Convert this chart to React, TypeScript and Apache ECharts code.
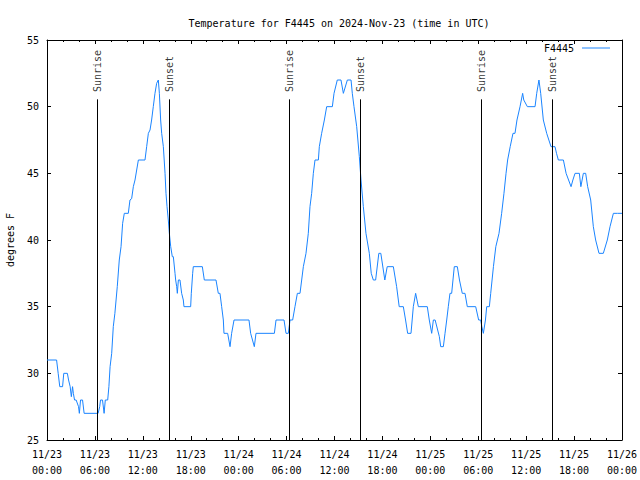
import React, { useEffect, useRef } from "react";
import * as echarts from "echarts";

// Hours since 2024-11-23 00:00 UTC
const hours: number[] = [
  0, 1.2, 1.4, 1.6, 1.95, 2.1, 2.55, 2.7, 2.9, 3.05, 3.2, 3.3, 3.45, 3.65, 3.95, 4.05, 4.2, 4.45, 4.65, 6.4,
  6.6, 6.7, 6.95, 7.15, 7.3, 7.6, 7.75, 7.9, 8.1, 8.3, 8.5, 8.8, 9.05, 9.27, 9.47, 9.68, 10.18, 10.39, 10.6, 10.81,
  11.02, 11.23, 11.44, 12.27, 12.48, 12.69, 12.9, 13.1, 13.31, 13.52, 13.73, 13.94, 14.07, 14.23, 14.36, 14.57, 14.78, 14.9, 15.03, 15.19,
  15.32, 15.49, 15.69, 15.82, 16.03, 16.11, 16.24, 16.32, 16.45, 16.65, 16.86, 17.07, 17.15, 17.99, 18.07, 18.24, 18.32, 19.45, 19.7, 21.16,
  21.45, 21.66, 21.87, 22.08, 22.16, 22.62, 22.92, 23.12, 23.42, 25.29, 25.5, 25.96, 26.17, 28.47, 28.68, 29.68, 29.93, 30.22, 30.43, 30.76,
  31.05, 31.35, 31.68, 31.89, 32.1, 32.43, 32.72, 32.93, 33.14, 33.35, 33.56, 33.98, 34.1, 34.39, 34.73, 35.02, 35.73, 35.94, 36.35, 36.81,
  37.11, 37.61, 38.07, 38.23, 38.44, 38.78, 39.11, 39.32, 39.61, 39.94, 40.36, 40.6, 40.86, 41.15, 41.55, 41.8, 42.3, 42.6, 43.37, 43.78,
  44.1, 44.62, 44.9, 45.16, 45.58, 45.87, 46.16, 46.5, 47.62, 47.87, 48.17, 48.38, 48.6, 49.13, 49.3, 49.63, 49.84, 50.05, 50.25, 50.46,
  50.67, 51.0, 51.38, 51.65, 52.0, 52.34, 52.63, 53.68, 54.05, 54.3, 54.45, 54.64, 54.9, 55.06, 55.39, 55.56, 55.9, 56.2, 56.6, 56.93,
  57.22, 57.48, 57.68, 58.0, 58.35, 58.6, 58.85, 59.23, 59.56, 59.7, 60.15, 61.11, 61.32, 61.6, 61.82, 62.15, 62.57, 63.11, 63.61, 63.8,
  64.03, 64.66, 65.0, 65.62, 65.85, 66.12, 66.66, 66.85, 67.16, 67.45, 67.7, 68.08, 68.41, 68.7, 69.12, 69.66, 70.16, 70.5, 70.92, 71.42,
  72.0,
];

// Temperature (degrees F)
const temps: number[] = [
  31, 31, 30, 29, 29, 30, 30, 29.5, 29, 28.25, 29, 28.5, 28, 28, 27.5, 27, 28, 28, 27, 27,
  27.5, 28, 28, 27, 28, 28, 29, 30.5, 31.5, 33.5, 34.5, 36.5, 38.5, 39.5, 41.25, 42, 42, 43, 43.1, 44,
  44.5, 45.25, 46, 46, 47, 48, 48.25, 49, 50, 51, 51.75, 52, 51, 49, 48, 47, 45, 43.5, 42.5, 41.5,
  40.5, 39.5, 38.75, 38.75, 37.5, 37, 36.5, 36, 37, 37, 36, 35.5, 35, 35, 36, 37.5, 38, 38, 37, 37,
  36, 36, 35, 34, 33, 33, 32, 33, 34, 34, 33, 32, 33, 33, 34, 34, 33, 33, 34, 34,
  35, 36, 36, 37, 38, 39, 40.5, 42.5, 43.5, 45, 46, 46, 47, 48, 49, 50, 50, 51, 52, 52,
  51, 52, 52, 51, 50, 48.5, 46.25, 44.5, 42.5, 40.5, 39, 37.5, 37, 37, 39, 39, 37, 38, 38, 36.5,
  35, 35, 34, 33, 33, 35, 36, 35, 35, 34, 33, 34, 34, 32.75, 32, 32, 33, 34, 35, 36,
  36, 38, 38, 37, 36, 36, 35, 35, 34, 34, 33.5, 33, 34, 35, 35, 36, 38, 39.5, 40.5, 42,
  43.5, 45, 46, 47, 48, 48, 49, 50, 51, 50.5, 50, 50, 51, 52, 51, 49, 48, 47, 47, 46.5,
  46, 46, 45, 44, 44.5, 45, 45, 44, 45, 45, 44, 43, 41, 40, 39, 39, 40, 41, 42, 42,
  42,
];

const sunriseHours: number[] = [6.3, 30.35, 54.39];
const sunsetHours: number[] = [15.32, 39.24, 63.28];

const yTicks: number[] = [25, 30, 35, 40, 45, 50, 55];
const dayLabels: string[] = ["11/23", "11/24", "11/25", "11/26"];

const FONT = "DejaVu Sans Mono";
const BLUE = "#1a84ff";

export default function App() {
  const ref = useRef<HTMLDivElement>(null);

  useEffect(() => {
    if (!ref.current) return;
    const chart = echarts.init(ref.current, undefined, { renderer: "svg" });

    const fmtX = (v: number) => {
      const day = Math.floor(v / 24);
      const hh = Math.round(v - day * 24);
      return `${dayLabels[day]}\n${hh < 10 ? "0" + hh : hh}:00`;
    };

    const lineTop = 50.55;
    const labelY = 51.1;

    const xCommon = {
      type: "value" as const,
      min: 0,
      max: 72,
      interval: 6,
      splitLine: { show: false },
      axisLine: { onZero: false, lineStyle: { color: "#000", width: 1 } },
      axisTick: { inside: true, length: 4, lineStyle: { color: "#000" } },
      minorTick: { show: true, splitNumber: 3, length: 2, lineStyle: { color: "#000" } },
    };
    const yCommon = {
      type: "value" as const,
      min: yTicks[0],
      max: yTicks[yTicks.length - 1],
      interval: 5,
      splitLine: { show: false },
      axisLine: { onZero: false, lineStyle: { color: "#000", width: 1 } },
      axisTick: { inside: true, length: 4, lineStyle: { color: "#000" } },
    };

    const option: any = {
      animation: false,
      backgroundColor: "#fff",
      title: {
        text: "Temperature for F4445 on 2024-Nov-23 (time in UTC)",
        left: 334,
        top: 13,
        textAlign: "center",
        textStyle: { fontFamily: FONT, fontSize: 10, fontWeight: "normal", color: "#000" },
      },
      legend: {
        data: [{ name: "F4445", icon: "rect" }],
        right: 30,
        top: 43,
        padding: 0,
        align: "right",
        itemWidth: 28,
        itemHeight: 1,
        textStyle: { fontFamily: FONT, fontSize: 10, color: "#000", padding: [0, 3, 0, 0] },
      },
      grid: {
        left: 47,
        right: 18,
        top: 40,
        bottom: 40,
        containLabel: false,
        outerBoundsMode: "none",
      },
      xAxis: [
        {
          ...xCommon,
          position: "bottom",
          axisLabel: {
            formatter: fmtX,
            fontFamily: FONT,
            fontSize: 10,
            color: "#000",
            lineHeight: 16,
            margin: 6,
            showMinLabel: true,
            showMaxLabel: true,
          },
        },
        { ...xCommon, position: "top", axisLabel: { show: false } },
      ],
      yAxis: [
        {
          ...yCommon,
          position: "left",
          name: "degrees F",
          nameLocation: "middle",
          nameRotate: 90,
          nameGap: 32,
          nameTextStyle: { fontFamily: FONT, fontSize: 10, color: "#000" },
          axisLabel: { fontFamily: FONT, fontSize: 10, color: "#000", margin: 8 },
        },
        { ...yCommon, position: "right", axisLabel: { show: false } },
      ],
      series: [
        {
          name: "F4445",
          type: "line",
          symbol: "none",
          data: hours.map((h, i) => [h, temps[i]]),
          lineStyle: { color: BLUE, width: 1 },
          itemStyle: { color: BLUE },
          markLine: {
            silent: true,
            symbol: "none",
            label: { show: false },
            lineStyle: { color: "#000", width: 1, type: "solid" },
            data: [...sunriseHours, ...sunsetHours].map((h) => [
              { coord: [h, yTicks[0]] },
              { coord: [h, lineTop] },
            ]),
          },
        },
        {
          name: "sunlabels",
          type: "scatter",
          symbolSize: 0,
          silent: true,
          data: [
            ...sunriseHours.map((h) => ({ value: [h, labelY], name: "Sunrise" })),
            ...sunsetHours.map((h) => ({ value: [h, labelY], name: "Sunset" })),
          ],
          label: {
            show: true,
            formatter: (p: any) => p.name,
            position: [0, 0],
            rotate: 90,
            align: "left",
            verticalAlign: "middle",
            fontFamily: FONT,
            fontSize: 10,
            color: "#000",
          },
        },
      ],
    };

    chart.setOption(option);
    return () => chart.dispose();
  }, []);

  return (
    <div
      ref={ref}
      style={{ position: "fixed", left: 0, top: 0, width: 640, height: 480 }}
    />
  );
}
